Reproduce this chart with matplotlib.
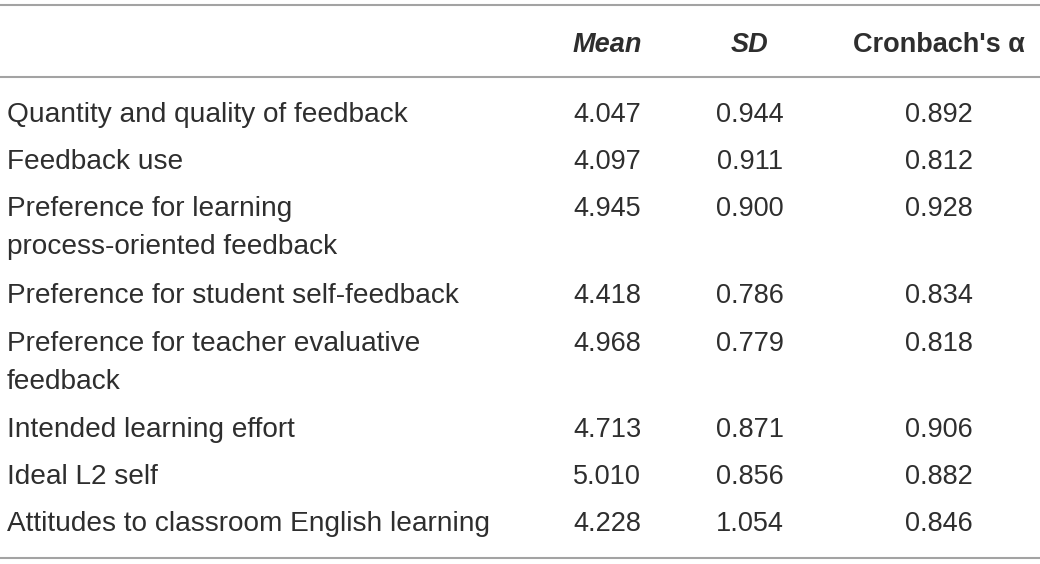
import matplotlib.pyplot as plt

# table content
headers = ["Mean", "SD", "Cronbach's α"]
labels = [
    "Quantity and quality of feedback",
    "Feedback use",
    "Preference for learning\nprocess-oriented feedback",
    "Preference for student self-feedback",
    "Preference for teacher evaluative\nfeedback",
    "Intended learning effort",
    "Ideal L2 self",
    "Attitudes to classroom English learning",
]
means = ["4.047", "4.097", "4.945", "4.418", "4.968", "4.713", "5.010", "4.228"]
sds = ["0.944", "0.911", "0.900", "0.786", "0.779", "0.871", "0.856", "1.054"]
alphas = ["0.892", "0.812", "0.928", "0.834", "0.818", "0.906", "0.882", "0.846"]

fig = plt.figure(figsize=(10.4, 5.64), dpi=100)
ax = fig.add_axes([0, 0, 1, 1])
ax.set_xlim(0, 1040)
ax.set_ylim(564, 0)
ax.axis("off")

txt = "#2e2e2e"
line_c = "#a3a3a3"
fs = 19.5
fs_lab = 20.2
font = "Liberation Sans"

# horizontal rules
for y in [5, 77, 558]:
    ax.plot([0, 1040], [y, y], color=line_c, lw=1.5, solid_capstyle="butt")

col_x = [607, 750, 939]
hdr_y = 52
ax.text(col_x[0], hdr_y, headers[0], ha="center", va="baseline", fontsize=fs,
        fontweight="bold", style="italic", color=txt, family=font)
ax.text(col_x[1], hdr_y, headers[1], ha="center", va="baseline", fontsize=fs,
        fontweight="bold", style="italic", color=txt, family=font)
ax.text(col_x[2], hdr_y, headers[2], ha="center", va="baseline", fontsize=fs,
        fontweight="bold", color=txt, family=font)

row_y = [122, 169, 216, 303, 351, 437, 484, 531]
line_gap = 38
for lab, m, s, a, y in zip(labels, means, sds, alphas, row_y):
    for i, part in enumerate(lab.split("\n")):
        ax.text(7, y + i * line_gap, part, ha="left", va="baseline", fontsize=fs_lab,
                color=txt, family=font)
    for x, v in zip(col_x, [m, s, a]):
        ax.text(x, y, v, ha="center", va="baseline", fontsize=fs, color=txt, family=font)

fig.savefig("out.png", dpi=100)
